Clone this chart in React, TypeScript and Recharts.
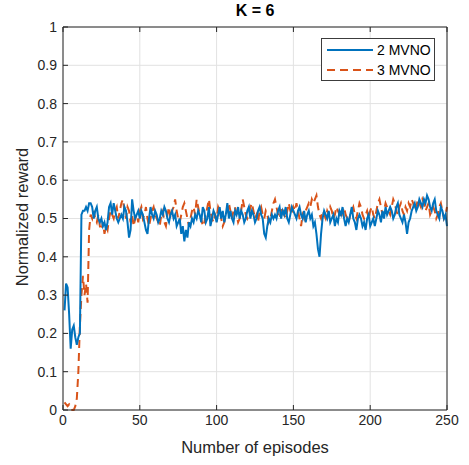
import {
  LineChart,
  Line,
  XAxis,
  YAxis,
  CartesianGrid,
} from "recharts";

const mvno2 = [
  0.26, 0.33, 0.32, 0.25, 0.16, 0.21, 0.22, 0.19, 0.17, 0.19,
  0.2, 0.51, 0.52, 0.52, 0.53, 0.52, 0.54, 0.54, 0.53, 0.5,
  0.52, 0.53, 0.5, 0.49, 0.5, 0.48, 0.49, 0.47, 0.49, 0.53,
  0.54, 0.51, 0.54, 0.52, 0.5, 0.49, 0.5, 0.51, 0.5, 0.53,
  0.52, 0.49, 0.45, 0.47, 0.55, 0.52, 0.5, 0.51, 0.52, 0.5,
  0.52, 0.51, 0.49, 0.47, 0.46, 0.5, 0.53, 0.51, 0.5, 0.52,
  0.51, 0.49, 0.5, 0.52, 0.51, 0.53, 0.52, 0.5, 0.49, 0.51,
  0.52, 0.5, 0.51, 0.48, 0.49, 0.5, 0.46, 0.48, 0.44, 0.47,
  0.45, 0.49, 0.48, 0.5, 0.49, 0.51, 0.5, 0.52, 0.51, 0.49,
  0.53, 0.52, 0.49, 0.5, 0.53, 0.48, 0.5, 0.52, 0.51, 0.49,
  0.51, 0.53, 0.5, 0.52, 0.49, 0.51, 0.54, 0.5, 0.52, 0.5,
  0.49, 0.52, 0.51, 0.53, 0.5, 0.52, 0.51, 0.49, 0.5, 0.52,
  0.53, 0.5, 0.52, 0.51, 0.49, 0.5, 0.52, 0.53, 0.51, 0.5,
  0.46, 0.45, 0.48, 0.5, 0.49, 0.51, 0.5, 0.51, 0.5, 0.52,
  0.53, 0.5, 0.52, 0.51, 0.53, 0.5, 0.49, 0.51, 0.53, 0.52,
  0.51, 0.5, 0.52, 0.53, 0.51, 0.5, 0.52, 0.49, 0.51, 0.52,
  0.5, 0.51, 0.48, 0.49, 0.46, 0.42, 0.4, 0.46, 0.5, 0.52,
  0.51, 0.5, 0.52, 0.49, 0.5, 0.51, 0.48, 0.5, 0.49, 0.52,
  0.51, 0.53, 0.5, 0.48, 0.5, 0.49, 0.51, 0.53, 0.5, 0.49,
  0.47, 0.5, 0.51, 0.5, 0.48, 0.49, 0.47, 0.5, 0.51, 0.48,
  0.49, 0.5, 0.48, 0.5, 0.52, 0.51, 0.49, 0.52, 0.5, 0.53,
  0.51, 0.52, 0.53, 0.52, 0.5, 0.51, 0.53, 0.54, 0.51, 0.5,
  0.49, 0.51, 0.49, 0.46, 0.49, 0.5, 0.52, 0.53, 0.54, 0.52,
  0.53, 0.55, 0.54, 0.53, 0.55, 0.54, 0.56, 0.55, 0.53, 0.52,
  0.54, 0.55, 0.52, 0.51, 0.5, 0.53, 0.52, 0.5, 0.51, 0.48,
];

const mvno3 = [
  0.02, 0.015, 0.01, 0.015, 0.01, 0.0, 0.0, 0.01, 0.03, 0.1,
  0.22, 0.3, 0.35, 0.3, 0.33, 0.28, 0.47, 0.51, 0.5, 0.52,
  0.5, 0.49, 0.51, 0.48, 0.47, 0.49, 0.46, 0.48, 0.47, 0.5,
  0.52, 0.51, 0.5, 0.52, 0.53, 0.5, 0.52, 0.54, 0.55, 0.52,
  0.5, 0.53, 0.52, 0.49, 0.51, 0.48, 0.5, 0.51, 0.49, 0.52,
  0.53, 0.5, 0.51, 0.53, 0.5, 0.48, 0.5, 0.52, 0.53, 0.51,
  0.5, 0.49, 0.48, 0.51, 0.52, 0.49, 0.48, 0.51, 0.53, 0.5,
  0.52, 0.53, 0.55, 0.52, 0.5, 0.49, 0.51, 0.53, 0.54, 0.52,
  0.5, 0.48, 0.5, 0.52, 0.53, 0.51, 0.55, 0.53, 0.51, 0.5,
  0.48, 0.49, 0.51, 0.53, 0.55, 0.52, 0.5, 0.49, 0.51, 0.5,
  0.53, 0.52, 0.5, 0.48, 0.49, 0.51, 0.52, 0.54, 0.52, 0.5,
  0.52, 0.53, 0.51, 0.49, 0.5, 0.52, 0.55, 0.53, 0.51, 0.5,
  0.51, 0.53, 0.54, 0.52, 0.5, 0.51, 0.49, 0.52, 0.53, 0.51,
  0.5, 0.52, 0.51, 0.49, 0.5, 0.52, 0.54, 0.55, 0.53, 0.51,
  0.5, 0.52, 0.53, 0.51, 0.5, 0.52, 0.54, 0.52, 0.51, 0.53,
  0.52, 0.54, 0.52, 0.5, 0.48, 0.51, 0.5, 0.52, 0.53, 0.54,
  0.53, 0.55, 0.54, 0.55, 0.56, 0.53, 0.51, 0.5, 0.52, 0.51,
  0.5, 0.52, 0.51, 0.53, 0.52, 0.5, 0.51, 0.53, 0.52, 0.51,
  0.5, 0.52, 0.53, 0.51, 0.5, 0.49, 0.51, 0.52, 0.53, 0.51,
  0.5, 0.52, 0.54, 0.53, 0.51, 0.5, 0.51, 0.52, 0.5, 0.52,
  0.53, 0.51, 0.5, 0.52, 0.54, 0.55, 0.53, 0.51, 0.52, 0.54,
  0.53, 0.52, 0.51, 0.53, 0.55, 0.54, 0.52, 0.51, 0.53, 0.54,
  0.52, 0.51, 0.53, 0.52, 0.54, 0.53, 0.55, 0.54, 0.52, 0.53,
  0.55, 0.54, 0.53, 0.55, 0.54, 0.52, 0.53, 0.54, 0.51, 0.52,
  0.53, 0.52, 0.5, 0.51, 0.53, 0.54, 0.52, 0.5, 0.51, 0.53,
];

const xTicks = [0, 50, 100, 150, 200, 250];
const yTicks = [0, 0.1, 0.2, 0.3, 0.4, 0.5, 0.6, 0.7, 0.8, 0.9, 1];
const seriesNames = ["2 MVNO", "3 MVNO"];

const data = mvno2.map((v, i) => ({ episode: i + 1, m2: v, m3: mvno3[i] }));

const FONT = "'Liberation Sans', Arial, Helvetica, sans-serif";
const AXIS = "#262626";
const BLUE = "#0072BD";
const ORANGE = "#D95319";

const emptyTick = () => <g />;

export default function App() {
  return (
    <div style={{ position: "absolute", left: 0, top: 0, width: 469, height: 465, background: "#fff" }}>
      <LineChart
        width={469}
        height={465}
        data={data}
        margin={{ top: 26, right: 21, bottom: 25, left: 23 }}
      >
        <CartesianGrid xAxisId="b" yAxisId="l" stroke="#e2e2e2" strokeWidth={1} />
        <XAxis
          xAxisId="b"
          dataKey="episode"
          type="number"
          domain={[0, 250]}
          ticks={xTicks}
          height={30}
          stroke={AXIS}
          tickSize={-5}
          tickMargin={10}
          tick={{ fill: AXIS, fontSize: 14, fontFamily: FONT }}
        />
        <XAxis
          xAxisId="t"
          orientation="top"
          dataKey="episode"
          type="number"
          domain={[0, 250]}
          ticks={xTicks}
          height={1}
          stroke={AXIS}
          tickSize={-5}
          tick={emptyTick}
        />
        <YAxis
          yAxisId="l"
          type="number"
          domain={[0, 1]}
          ticks={yTicks}
          width={40}
          stroke={AXIS}
          tickSize={-5}
          tickMargin={11}
          tick={{ fill: AXIS, fontSize: 14, fontFamily: FONT }}
        />
        <YAxis
          yAxisId="r"
          orientation="right"
          type="number"
          domain={[0, 1]}
          ticks={yTicks}
          width={1}
          stroke={AXIS}
          tickSize={-5}
          tick={emptyTick}
        />
        <Line
          xAxisId="b"
          yAxisId="l"
          type="linear"
          dataKey="m3"
          name={seriesNames[1]}
          stroke={ORANGE}
          strokeWidth={2}
          strokeDasharray="8 5"
          dot={false}
          isAnimationActive={false}
        />
        <Line
          xAxisId="b"
          yAxisId="l"
          type="linear"
          dataKey="m2"
          name={seriesNames[0]}
          stroke={BLUE}
          strokeWidth={2}
          dot={false}
          isAnimationActive={false}
        />
      </LineChart>
      {/* legend box, MATLAB style */}
      <div
        style={{
          position: "absolute",
          left: 321,
          top: 38,
          border: "1px solid #3c3c3c",
          background: "#fff",
          width: 112,
          height: 41,
        }}
      >
        <svg width={112} height={41} style={{ display: "block" }}>
          <line x1={5} x2={51} y1={11} y2={11} stroke={BLUE} strokeWidth={2} />
          <text x={55} y={16} fontSize={14} fontFamily={FONT} fill="#000">{seriesNames[0]}</text>
          <line x1={5} x2={51} y1={31} y2={31} stroke={ORANGE} strokeWidth={2} strokeDasharray="8 5" />
          <text x={55} y={36} fontSize={14} fontFamily={FONT} fill="#000">{seriesNames[1]}</text>
        </svg>
      </div>
      <div
        style={{
          position: "absolute",
          left: 63,
          width: 384,
          top: 2,
          textAlign: "center",
          fontFamily: FONT,
          fontWeight: "bold",
          fontSize: 16,
          color: "#000",
        }}
      >
        K = 6
      </div>
      <div
        style={{
          position: "absolute",
          left: 63,
          width: 384,
          top: 438,
          textAlign: "center",
          fontFamily: FONT,
          fontSize: 16.5,
          color: AXIS,
        }}
      >
        Number of episodes
      </div>
      <div
        style={{
          position: "absolute",
          left: 22,
          top: 217,
          transform: "translate(-50%, -50%) rotate(-90deg)",
          whiteSpace: "nowrap",
          fontFamily: FONT,
          fontSize: 16.5,
          color: AXIS,
        }}
      >
        Normalized reward
      </div>
    </div>
  );
}
